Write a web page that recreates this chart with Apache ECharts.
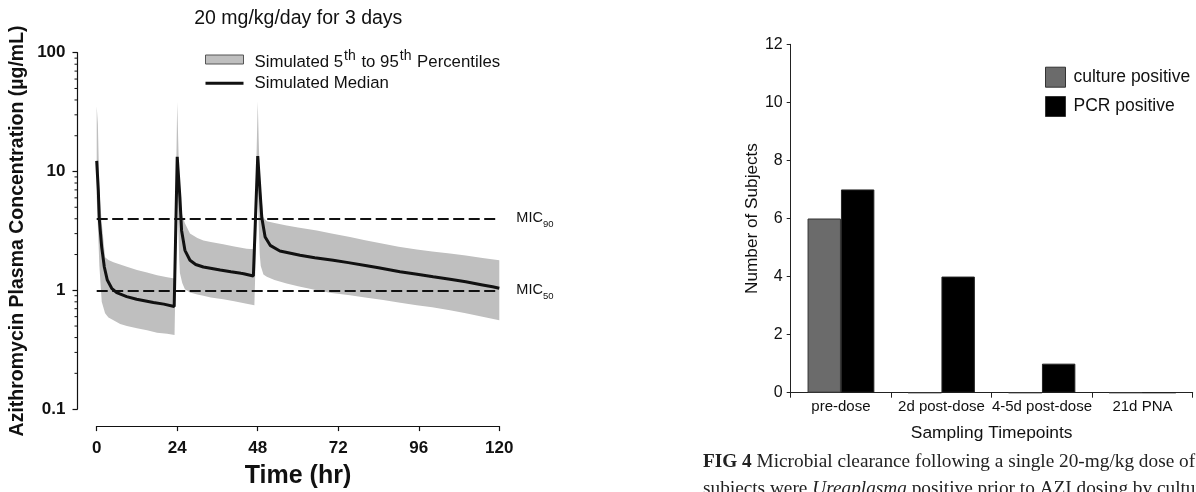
<!DOCTYPE html>
<html>
<head>
<meta charset="utf-8">
<title>Azithromycin simulation and microbial clearance</title>
<script src="https://cdn.jsdelivr.net/npm/echarts@6/dist/echarts.min.js"></script>
<style>
  html, body { margin: 0; padding: 0; background: #fff; }
  #chart { width: 1196px; height: 492px; }
</style>
</head>
<body>
<div id="chart"></div>
<script>
// ---- Left panel: simulated plasma concentration (log scale) ----
const timeTicks = [0, 24, 48, 72, 96, 120];

const medianTimes = [0, 0.48, 0.77, 1.49, 2.27, 3.16, 4.47, 5.96, 8.94, 11.9, 16.9, 20, 23.1,
  24.0, 24.8, 25.3, 26.3, 27.8, 29.5, 31.8, 36.8, 40, 43.0, 43.4, 43.8, 46.7, 47.0,
  48.0, 49.2, 50.2, 51.7, 54.6, 60.6, 65, 70.5, 75, 80.5, 84, 90.4, 95, 100.3, 105.3, 110, 115, 118, 120];
const medianValues = [12.3, 6.9, 4.0, 2.31, 1.57, 1.22, 1.04, 0.955, 0.884, 0.84, 0.79, 0.765, 0.73,
  13.3, 6.05, 3.19, 2.17, 1.79, 1.65, 1.57, 1.48, 1.43, 1.39, 1.35, 1.38, 1.32, 1.32,
  13.5, 4.1, 2.81, 2.39, 2.14, 1.97, 1.88, 1.79, 1.71, 1.61, 1.55, 1.43, 1.37, 1.30, 1.24, 1.18, 1.11, 1.07, 1.04];

const bandTimes = [0, 0.35, 0.8, 1.5, 2.5, 3.5, 5, 7, 9, 12, 15, 18, 21, 23.2,
  24.0, 24.3, 24.6, 24.8, 25.5, 26.3, 27.8, 30, 31.8, 34, 37.7, 41, 44.7, 47.0,
  48.0, 48.3, 48.6, 48.9, 49.7, 50.7, 53, 56.6, 60, 65.6, 70, 75.5, 80, 85.4, 90, 95.4, 100, 105.3, 110, 115, 120];
const bandHigh = [35.4, 25, 6.9, 3.7, 1.9, 1.8, 1.72, 1.65, 1.58, 1.48, 1.41, 1.34, 1.29, 1.26,
  38.5, 18, 8.5, 5.75, 4.3, 3.66, 3.0, 2.75, 2.63, 2.55, 2.44, 2.34, 2.24, 2.22,
  38.9, 18, 9, 7.0, 4.1, 3.82, 3.68, 3.51, 3.38, 3.19, 3.0, 2.81, 2.64, 2.47, 2.33, 2.2, 2.12, 2.04, 1.96, 1.87, 1.79];
const bandLow = [6, 3.5, 1.6, 0.8, 0.64, 0.59, 0.56, 0.52, 0.5, 0.48, 0.46, 0.44, 0.43, 0.42,
  8, 3.5, 1.8, 1.4, 1.15, 1.02, 0.96, 0.92, 0.9, 0.87, 0.84, 0.81, 0.77, 0.75,
  8, 3.5, 2.0, 1.6, 1.36, 1.3, 1.22, 1.14, 1.08, 1.0, 0.95, 0.91, 0.87, 0.83, 0.79, 0.75, 0.72, 0.68, 0.64, 0.6, 0.56];

const micLevels = [4, 1];
const micSubscripts = ['90', '50'];

const minorTickValues = [0.2, 0.3, 0.4, 0.5, 0.6, 0.7, 0.8, 0.9,
  2, 3, 4, 5, 6, 7, 8, 9, 20, 30, 40, 50, 60, 70, 80, 90];

const BAND_NAME = 'Simulated 5th to 95th Percentiles';
const MEDIAN_NAME = 'Simulated Median';

// ---- Right panel: subjects positive at each sampling timepoint ----
const categories = ['pre-dose', '2d post-dose', '4-5d post-dose', '21d PNA'];
const culturePositive = [6, 0, 0, 0];
const pcrPositive = [7, 4, 1, 0];

// ---- Layout ----
const SANS = 'Liberation Sans, Arial, Helvetica, sans-serif';
const SERIF = 'Liberation Serif, Times New Roman, serif';
const Y_OFFSET_LEFT = 19.2;   // left y-axis line sits away from the plot
const X_OFFSET_LEFT = 17;     // time axis sits below the plot

const chart = echarts.init(document.getElementById('chart'), null, { renderer: 'canvas' });

const option = {
  backgroundColor: '#fff',
  animation: false,
  grid: [
    { left: 96.7, top: 52.7, width: 402.6, height: 356.4, outerBoundsMode: 'none', containLabel: false },
    { left: 790.7, top: 44.3, width: 402, height: 348.4, outerBoundsMode: 'none', containLabel: false }
  ],
  xAxis: [
    {
      gridIndex: 0, type: 'value', min: timeTicks[0], max: timeTicks[timeTicks.length - 1], interval: 24,
      offset: X_OFFSET_LEFT,
      axisLine: { show: true, onZero: false, lineStyle: { color: '#111', width: 1.2 } },
      axisTick: { show: true, inside: false, length: 5, lineStyle: { color: '#111', width: 1.2 } },
      axisLabel: { margin: 14, color: '#111', fontFamily: SANS, fontWeight: 'bold', fontSize: 17 },
      splitLine: { show: false },
      name: 'Time (hr)', nameLocation: 'middle', nameGap: 38,
      nameTextStyle: { color: '#111', fontFamily: SANS, fontWeight: 'bold', fontSize: 25 }
    },
    {
      gridIndex: 1, type: 'category', data: categories,
      axisLine: { show: true, onZero: false, lineStyle: { color: '#222', width: 1 } },
      axisTick: { show: true, inside: false, length: 5, alignWithLabel: false, lineStyle: { color: '#222', width: 1 } },
      axisLabel: { margin: 6.5, color: '#111', fontFamily: SANS, fontSize: 15, interval: 0 },
      splitLine: { show: false },
      name: 'Sampling Timepoints', nameLocation: 'middle', nameGap: 32,
      nameTextStyle: { color: '#111', fontFamily: SANS, fontSize: 17.4 }
    }
  ],
  yAxis: [
    {
      gridIndex: 0, type: 'log', logBase: 10, min: 0.1, max: 100,
      offset: Y_OFFSET_LEFT,
      axisLine: { show: true, onZero: false, lineStyle: { color: '#111', width: 1.2 } },
      axisTick: { show: true, inside: false, length: 5, lineStyle: { color: '#111', width: 1.2 } },
      axisLabel: {
        margin: 12, color: '#111', fontFamily: SANS, fontWeight: 'bold', fontSize: 17,
        formatter: v => String(v)
      },
      splitLine: { show: false },
      name: 'Azithromycin Plasma Concentration (µg/mL)', nameLocation: 'middle', nameGap: 50,
      nameTextStyle: { color: '#111', fontFamily: SANS, fontWeight: 'bold', fontSize: 19.5 }
    },
    {
      gridIndex: 1, type: 'value', min: 0, max: 12, interval: 2,
      axisLine: { show: true, onZero: false, lineStyle: { color: '#222', width: 1 } },
      axisTick: { show: true, inside: false, length: 4, lineStyle: { color: '#222', width: 1 } },
      axisLabel: { margin: 8, color: '#111', fontFamily: SANS, fontSize: 16 },
      splitLine: { show: false },
      name: 'Number of Subjects', nameLocation: 'middle', nameGap: 30,
      nameTextStyle: { color: '#111', fontFamily: SANS, fontSize: 17.2 }
    }
  ],
  legend: [
    {
      orient: 'vertical', left: 205, top: 48, itemWidth: 38, itemHeight: 9, itemGap: 3.7,
      selectedMode: false, padding: 0,
      data: [
        { name: BAND_NAME, icon: 'rect', itemStyle: { color: '#bfbfbf', borderColor: '#555', borderWidth: 1 } },
        { name: MEDIAN_NAME, icon: 'path://M0,0H38V3H0Z', itemStyle: { color: '#111', borderWidth: 0 } }
      ],
      formatter: name => name === BAND_NAME
        ? '{n|Simulated 5}{s|th}{n| to 95}{s|th}{n| Percentiles}'
        : name,
      textStyle: {
        color: '#111', fontFamily: SANS, fontSize: 16.8, padding: [0, 0, 0, 6],
        rich: {
          n: { fontFamily: SANS, fontSize: 16.8, color: '#111', lineHeight: 20, padding: [6, 0, 0, 0] },
          s: { fontFamily: SANS, fontSize: 14, color: '#111', lineHeight: 15, padding: [0, 1, 0, 1], verticalAlign: 'top' }
        }
      }
    },
    {
      orient: 'vertical', left: 1045, top: 66.7, itemWidth: 20, itemHeight: 20, itemGap: 8.3,
      selectedMode: false, padding: 0,
      data: [
        { name: 'culture positive', icon: 'rect', itemStyle: { color: '#6b6b6b', borderColor: '#333', borderWidth: 1 } },
        { name: 'PCR positive', icon: 'rect', itemStyle: { color: '#000', borderColor: '#333', borderWidth: 1 } }
      ],
      textStyle: { color: '#111', fontFamily: SANS, fontSize: 17.5, padding: [0, 0, 0, 3] }
    }
  ],
  graphic: [
    {
      type: 'text', x: 298.3, y: 19, silent: true,
      style: {
        text: '20 mg/kg/day for 3 days', fill: '#111',
        font: 'normal 19.5px ' + SANS,
        align: 'center', verticalAlign: 'middle', textAlign: 'center', textVerticalAlign: 'middle'
      }
    },
    {
      type: 'text', x: 703, y: 461.7, silent: true,
      style: {
        text: '{b|FIG 4} Microbial clearance following a single 20-mg/kg dose of',
        fill: '#222', font: 'normal 19.3px ' + SERIF,
        verticalAlign: 'middle', textVerticalAlign: 'middle',
        rich: { b: { fontFamily: SERIF, fontWeight: 'bold', fontSize: 19.3, fill: '#222' } }
      }
    },
    {
      type: 'text', x: 703, y: 489, silent: true,
      style: {
        text: 'subjects were {i|Ureaplasma} positive prior to AZI dosing by culture',
        fill: '#222', font: 'normal 19.3px ' + SERIF,
        verticalAlign: 'middle', textVerticalAlign: 'middle',
        rich: { i: { fontFamily: SERIF, fontStyle: 'italic', fontSize: 19.3, fill: '#222' } }
      }
    }
  ],
  series: [
    // 5th–95th percentile envelope, traced along the upper edge and back along the lower edge
    {
      type: 'custom', name: BAND_NAME, xAxisIndex: 0, yAxisIndex: 0, z: 1, silent: true,
      itemStyle: { color: '#bfbfbf' },
      data: bandTimes.map((t, i) => [t, bandLow[i], bandHigh[i]]),
      encode: { x: 0, y: [1, 2] },
      renderItem: (params, api) => {
        if (params.dataIndex !== 0) return null;
        const pts = [];
        for (let i = 0; i < bandTimes.length; i++) pts.push(api.coord([bandTimes[i], bandHigh[i]]));
        for (let i = bandTimes.length - 1; i >= 0; i--) pts.push(api.coord([bandTimes[i], bandLow[i]]));
        return { type: 'polygon', shape: { points: pts }, style: { fill: '#bfbfbf' } };
      }
    },
    // median concentration with MIC reference lines
    {
      type: 'line', name: MEDIAN_NAME, xAxisIndex: 0, yAxisIndex: 0, z: 3,
      showSymbol: false, symbol: 'none', smooth: false,
      lineStyle: { color: '#111', width: 3 },
      itemStyle: { color: '#111' },
      data: medianTimes.map((t, i) => [t, medianValues[i]]),
      markLine: {
        silent: true, symbol: 'none',
        lineStyle: { type: [11, 4.5], color: '#111', width: 2 },
        label: {
          show: true, position: 'end', distance: 17,
          formatter: p => '{m|MIC}{s|' + micSubscripts[micLevels.indexOf(p.value)] + '}',
          rich: {
            m: { fontFamily: SANS, fontSize: 14.5, color: '#111', lineHeight: 16, verticalAlign: 'top' },
            s: { fontFamily: SANS, fontSize: 9.5, color: '#111', lineHeight: 10, padding: [9, 0, 0, 0], verticalAlign: 'top' }
          }
        },
        data: micLevels.map(v => ({ yAxis: v }))
      }
    },
    // minor ticks of the log axis (2–9 within each decade)
    {
      type: 'custom', xAxisIndex: 0, yAxisIndex: 0, z: 4, silent: true, clip: false,
      data: minorTickValues.map(v => [0, v]),
      encode: { x: 0, y: 1 },
      renderItem: (params, api) => {
        const p = api.coord([0, api.value(1)]);
        const x = p[0] - Y_OFFSET_LEFT;
        return {
          type: 'line',
          shape: { x1: x - 3, y1: p[1], x2: x, y2: p[1] },
          style: { stroke: '#111', lineWidth: 1 }
        };
      }
    },
    {
      type: 'bar', name: 'culture positive', xAxisIndex: 1, yAxisIndex: 1,
      barWidth: 33.4, barGap: '0%',
      itemStyle: { color: '#6b6b6b', borderColor: '#333', borderWidth: 1 },
      data: culturePositive
    },
    {
      type: 'bar', name: 'PCR positive', xAxisIndex: 1, yAxisIndex: 1,
      barWidth: 33.4, barGap: '0%',
      itemStyle: { color: '#000', borderColor: '#222', borderWidth: 1 },
      data: pcrPositive
    }
  ]
};

chart.setOption(option);
</script>
</body>
</html>
